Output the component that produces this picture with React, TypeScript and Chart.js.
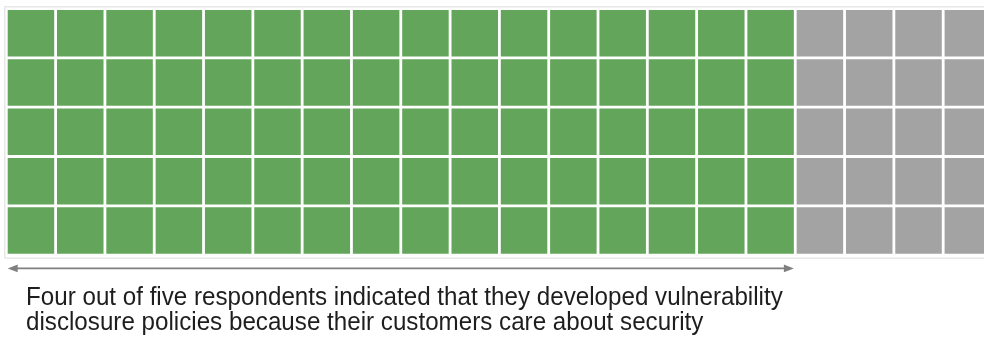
import { useEffect, useRef } from 'react';
import { Chart, registerables } from 'chart.js';

Chart.register(...registerables);

// Waffle: 100 cells, 5 rows x 20 columns, filled column by column
const shareLabels = ['Customers care about security', 'Other reasons'];
const shareValues = [80, 20]; // percent of respondents
const columnLabels = ['1', '2', '3', '4', '5', '6', '7', '8', '9', '10', '11', '12', '13', '14', '15', '16', '17', '18', '19', '20'];
const rowLabels = ['Row 1', 'Row 2', 'Row 3', 'Row 4', 'Row 5'];
const cellValue = 1;
const captionLines = [
  'Four out of five respondents indicated that they developed vulnerability',
  'disclosure policies because their customers care about security',
];

const shareColors = ['#63a65b', '#a3a3a3'];
const CANVAS_W = 1000;
const CANVAS_H = 343;

function cellColor(col: number, row: number): string {
  const idx = col * rowLabels.length + row;
  return idx < shareValues[0] ? shareColors[0] : shareColors[1];
}

const framePlugin = {
  id: 'waffleFrame',
  beforeDatasetsDraw(chart: any) {
    const { ctx, chartArea } = chart;
    ctx.save();
    ctx.strokeStyle = '#e2e2e2';
    ctx.lineWidth = 1.2;
    ctx.strokeRect(chartArea.left - 1.5, chartArea.top - 1.8, chartArea.right - chartArea.left + 3, chartArea.bottom - chartArea.top + 4.8);
    ctx.restore();
  },
  afterDraw(chart: any) {
    const { ctx, scales } = chart;
    const x = scales.x;
    const y = scales.y;
    const greenCols = Math.round(shareValues[0] / rowLabels.length);
    const half = (x.getPixelForValue(1) - x.getPixelForValue(0)) / 2;
    const inset = 1.4;
    const x0 = x.getPixelForValue(0) - half + inset;
    const x1 = x.getPixelForValue(greenCols - 1) + half - inset;
    const ay = y.getPixelForValue(0) + 13.3;
    const headL = 10;
    const headH = 3.8;
    ctx.save();
    ctx.strokeStyle = '#808080';
    ctx.fillStyle = '#808080';
    ctx.lineWidth = 1.8;
    ctx.beginPath();
    ctx.moveTo(x0 + headL - 1, ay);
    ctx.lineTo(x1 - headL + 1, ay);
    ctx.stroke();
    ctx.beginPath();
    ctx.moveTo(x0, ay);
    ctx.lineTo(x0 + headL, ay - headH);
    ctx.lineTo(x0 + headL, ay + headH);
    ctx.closePath();
    ctx.fill();
    ctx.beginPath();
    ctx.moveTo(x1, ay);
    ctx.lineTo(x1 - headL, ay - headH);
    ctx.lineTo(x1 - headL, ay + headH);
    ctx.closePath();
    ctx.fill();
    ctx.restore();
  },
};

export default function App() {
  const canvasRef = useRef<HTMLCanvasElement | null>(null);

  useEffect(() => {
    const canvas = canvasRef.current;
    if (!canvas) return;
    const datasets = rowLabels.map((label, r) => ({
      label,
      data: columnLabels.map(() => cellValue),
      backgroundColor: columnLabels.map((_, c) => cellColor(c, rowLabels.length - 1 - r)),
      borderColor: '#ffffff',
      borderWidth: 1.4,
      borderSkipped: false as const,
      inflateAmount: 0,
      categoryPercentage: 1,
      barPercentage: 1,
    }));
    const chart = new Chart(canvas, {
      type: 'bar',
      data: { labels: columnLabels, datasets },
      options: {
        animation: false,
        responsive: false,
        devicePixelRatio: 1,
        layout: { padding: { left: 6.3, top: 8.6, right: CANVAS_W - 6.3 - 986.2, bottom: CANVAS_H - 8.6 - 246.5 } },
        plugins: { legend: { display: false }, tooltip: { enabled: false }, title: { display: false } },
        scales: {
          x: { type: 'category', stacked: true, display: false, offset: true, grid: { display: false } },
          y: { type: 'linear', stacked: true, display: false, min: 0, max: rowLabels.length, grid: { display: false } },
        },
      },
      plugins: [framePlugin],
    });
    return () => chart.destroy();
  }, []);

  return (
    <div style={{ position: 'fixed', left: 0, top: 0, width: 984, height: 343, overflow: 'hidden', background: '#ffffff' }}>
      <canvas ref={canvasRef} width={CANVAS_W} height={CANVAS_H} style={{ width: CANVAS_W, height: CANVAS_H, display: 'block' }} aria-label={shareLabels.join(' / ')} />
      <div
        style={{
          position: 'absolute',
          left: 26,
          top: 284.2,
          fontFamily: '"Liberation Sans", Arial, sans-serif',
          fontSize: 26,
          lineHeight: '25.2px',
          color: '#1e1e1e',
          whiteSpace: 'nowrap',
          transform: 'scaleX(0.93)',
          transformOrigin: '0 0',
        }}
      >
        {captionLines.map((l) => (
          <div key={l}>{l}</div>
        ))}
      </div>
    </div>
  );
}
